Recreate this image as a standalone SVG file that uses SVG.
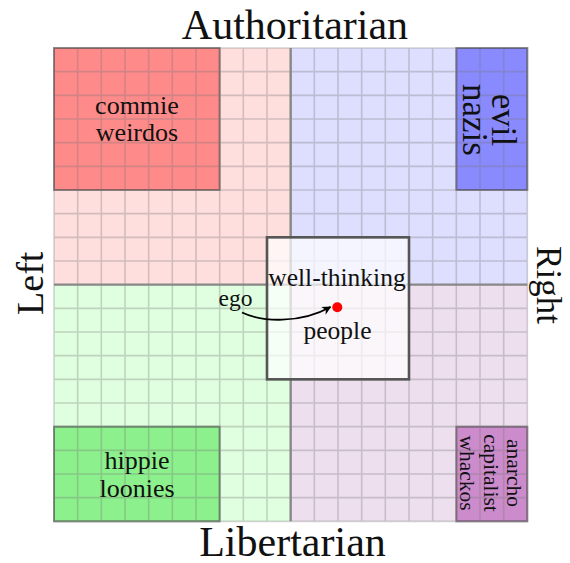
<svg xmlns="http://www.w3.org/2000/svg" width="570" height="563" viewBox="0 0 570 563">
<defs>
<style>
text{font-family:"Liberation Serif","Times New Roman",serif;fill:#111;}
.ax{font-size:42px;}
.lbl{font-size:26px;text-anchor:middle;}
.box{stroke:#333;stroke-opacity:0.55;stroke-width:2;}
.grid{fill:none;stroke:#777;stroke-opacity:0.32;stroke-width:1.6;}
</style>
<marker id="ah" viewBox="0 0 10 10" refX="9" refY="5" markerWidth="9" markerHeight="9" orient="auto" markerUnits="userSpaceOnUse">
<path d="M0,0 L10,5 L0,10 L3,5 Z" fill="#000"/>
</marker>
</defs>
<rect width="570" height="563" fill="#fff"/>
<g id="quadrants">
<rect x="54" y="48" width="236.67" height="236.67" fill="#ffdede"/>
<rect x="290.67" y="48" width="236.67" height="236.67" fill="#dedeff"/>
<rect x="54" y="284.67" width="236.67" height="236.67" fill="#e0ffe0"/>
<rect x="290.67" y="284.67" width="236.67" height="236.67" fill="#eedfee"/>
</g>
<g id="commie"><rect class="box" x="54" y="48" width="165.67" height="142" fill="#ff8a8a"/></g>
<g id="nazis"><rect class="box" x="456.33" y="48" width="71" height="142" fill="#8a8aff"/></g>
<g id="hippie"><rect class="box" x="54" y="426.67" width="165.67" height="94.67" fill="#8cf08c"/></g>
<g id="anarcho"><rect class="box" x="456.33" y="426.67" width="71" height="94.67" fill="#cc8ccc"/></g>
<path class="grid" d="M54 48V521.33M77.67 48V521.33M101.33 48V521.33M125 48V521.33M148.67 48V521.33M172.33 48V521.33M196 48V521.33M219.67 48V521.33M243.33 48V521.33M267 48V521.33M314.33 48V521.33M338 48V521.33M361.67 48V521.33M385.33 48V521.33M409 48V521.33M432.67 48V521.33M456.33 48V521.33M480 48V521.33M503.67 48V521.33M527.33 48V521.33M54 48H527.33M54 71.67H527.33M54 95.33H527.33M54 119H527.33M54 142.67H527.33M54 166.33H527.33M54 190H527.33M54 213.67H527.33M54 237.33H527.33M54 261H527.33M54 308.33H527.33M54 332H527.33M54 355.67H527.33M54 379.33H527.33M54 403H527.33M54 426.67H527.33M54 450.33H527.33M54 474H527.33M54 497.67H527.33M54 521.33H527.33"/>
<path d="M290.67 48V521.33M54 284.67H527.33" stroke="#888" stroke-width="2.4" fill="none"/>
<g id="commie-label"><text class="lbl" x="137" y="114">commie</text><text class="lbl" x="137" y="141">weirdos</text></g>
<g id="hippie-label"><text class="lbl" x="137" y="469">hippie</text><text class="lbl" x="137" y="497">loonies</text></g>
<g id="nazis-label" transform="translate(492,120) rotate(90)"><text x="0" y="0" text-anchor="middle" font-size="35">evil</text><text x="0" y="29.5" text-anchor="middle" font-size="35">nazis</text></g>
<g id="anarcho-label" transform="translate(506.5,473) rotate(90)" font-size="21.5"><text x="0" y="0" text-anchor="middle">anarcho</text><text x="0" y="23" text-anchor="middle">capitalist</text><text x="0" y="46.5" text-anchor="middle">whackos</text></g>
<g id="center">
<rect x="267" y="237.33" width="142" height="142" fill="#fff" fill-opacity="0.7" stroke="#555" stroke-width="2.6"/>
<text x="337" y="285.7" text-anchor="middle" font-size="25.5">well-thinking</text>
<text x="337.5" y="339.3" text-anchor="middle" font-size="25.5">people</text>
<circle cx="337.3" cy="307.3" r="5" fill="#f00"/>
</g>
<g id="ego"><text x="235.5" y="306" text-anchor="middle" font-size="23.5">ego</text></g>
<g id="connectors"><path d="M242 312.5 C262 322 300 324 330.5 307" fill="none" stroke="#000" stroke-width="1.8" marker-end="url(#ah)"/></g>
<g id="axes">
<text class="ax" x="295" y="39" text-anchor="middle" font-size="42">Authoritarian</text>
<text class="ax" x="292.5" y="555.5" text-anchor="middle" font-size="41">Libertarian</text>
<text transform="translate(42.7,283.3) rotate(-90)" text-anchor="middle" font-size="38">Left</text>
<text transform="translate(537,285) rotate(90)" text-anchor="middle" font-size="35">Right</text>
</g>
</svg>
